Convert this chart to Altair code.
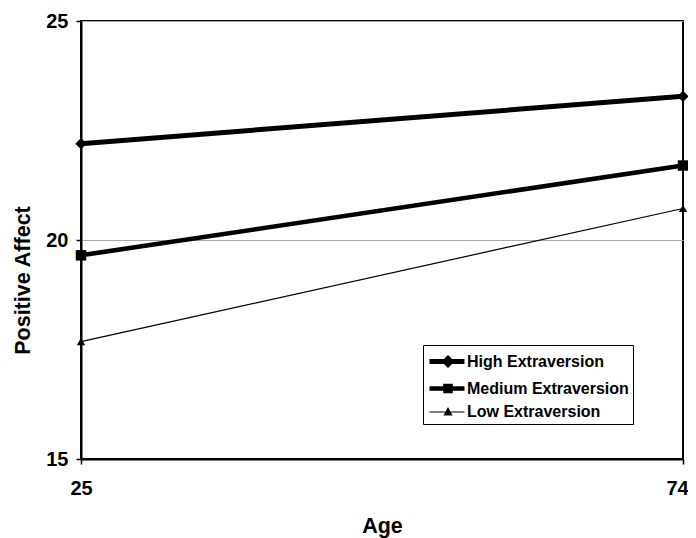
import altair as alt
import pandas as pd

ages = [25, 74]
series = ["High Extraversion", "Medium Extraversion", "Low Extraversion"]
high = [22.2, 23.28]
medium = [19.65, 21.7]
low = [17.68, 20.72]
y_ticks = [15, 20, 25]

rows = []
for name, vals in zip(series, [high, medium, low]):
    for a, v in zip(ages, vals):
        rows.append({"Age": a, "Series": name, "Affect": v})
df = pd.DataFrame(rows)

FONT = "Liberation Sans"

x = alt.X("Age:Q",
          scale=alt.Scale(domain=[25, 74], nice=False, zero=False),
          axis=alt.Axis(values=ages, title="Age", grid=False, tickSize=5,
                        labelPadding=14, labelFlush=False,
                        labelOffset={"condition": {"test": "datum.value == 74", "value": -6},
                                     "value": 0},
                        titleY=67, titleBaseline="middle"))
y = alt.Y("Affect:Q",
          scale=alt.Scale(domain=[15, 25], nice=False, zero=False),
          axis=alt.Axis(values=y_ticks, title="Positive Affect", grid=True,
                        gridColor="#aaaaaa", gridWidth=1, tickSize=5, labelPadding=8,
                        labelFlush=False,
                        titleX=-58, titleY=259, titleBaseline="middle"))

shape_expr = (
    "datum.value == 'High Extraversion' ? 'M-1,0L2.5,0M0.85,-0.3L1.15,0L0.85,0.3L0.55,0Z' : "
    "datum.value == 'Medium Extraversion' ? 'M-1,0L2.5,0M0.6,-0.25L1.1,-0.25L1.1,0.25L0.6,0.25Z' : "
    "'M-1,0L2.5,0M0.85,-0.38L1.2,0.28L0.5,0.28Z'"
)

lines = alt.Chart(df).mark_line(color="black").encode(
    x=x, y=y,
    strokeWidth=alt.StrokeWidth(
        "Series:N", title=None,
        scale=alt.Scale(type="ordinal", domain=series, range=[5, 4.5, 1.2]),
        legend=alt.Legend(
            orient="none", legendX=342, legendY=324,
            strokeColor="black", fillColor="white", padding=4,
            symbolSize=400, labelOffset=15, rowPadding=1,
            symbolType={"expr": shape_expr},
            symbolFillColor="black", symbolStrokeColor="black", symbolOpacity=1,
            labelFont=FONT, labelFontSize=16, labelFontWeight="bold",
            labelColor="black", labelLimit=300,
        ),
    ),
)

marker_style = {
    "High Extraversion": ("diamond", 130),
    "Medium Extraversion": ("square", 110),
    "Low Extraversion": ("triangle-up", 70),
}

layers = [lines]
for name in series:
    shp, sz = marker_style[name]
    layers.append(
        alt.Chart(df).transform_filter(alt.datum.Series == name)
        .mark_point(filled=True, color="black", opacity=1, shape=shp, size=sz)
        .encode(x=x, y=y)
    )

chart = alt.layer(*layers).properties(
    width=602, height=438,
    autosize=alt.AutoSizeParams(type="none"),
    padding={"left": 73, "top": 13, "right": 5, "bottom": 79},
).configure_view(
    stroke="black", strokeWidth=2
).configure_axis(
    domainColor="black", domainWidth=2, tickColor="black", tickWidth=1.5,
    labelFont=FONT, labelFontSize=20, labelFontWeight="bold", labelColor="black",
    titleFont=FONT, titleFontSize=21.5, titleFontWeight="bold", titleColor="black",
)

chart.save("out.html", embed_options={"renderer": "svg", "actions": False})
